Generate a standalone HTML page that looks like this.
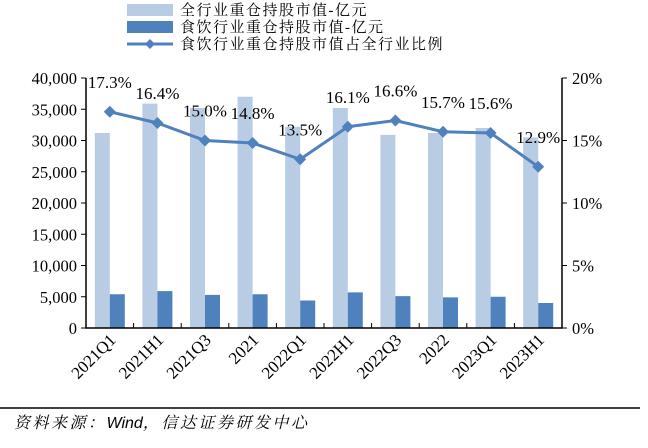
<!DOCTYPE html>
<html><head><meta charset="utf-8"><style>
body{margin:0;background:#fff;width:648px;height:443px;overflow:hidden}
svg text{font-family:"Liberation Serif","Noto Serif CJK SC",serif}
</style></head><body>
<svg width="648" height="443">
<g font-size="15" letter-spacing="1.5">
<rect x="127" y="4" width="46" height="12" fill="#b8cce4"/>
<text x="180" y="15">全行业重仓持股市值-亿元</text>
<rect x="127" y="21" width="46" height="12" fill="#4f81bd"/>
<text x="180" y="32">食饮行业重仓持股市值-亿元</text>
<line x1="127" y1="44" x2="173" y2="44" stroke="#4f81bd" stroke-width="3"/>
<path d="M150 39 L155 44 L150 49 L145 44Z" fill="#4f81bd"/>
<text x="180" y="49">食饮行业重仓持股市值占全行业比例</text>
</g>
<g id="plot"></g>
<line x1="0" y1="408" x2="640" y2="408" stroke="#000" stroke-width="1.5"/>
<text x="14" y="428" font-size="16" font-style="italic" letter-spacing="2.5">资料来源：<tspan style="font-family:'Liberation Sans',sans-serif" letter-spacing="0">Wind</tspan>，信达证券研发中心</text>
</svg>
<script>
const categories=["2021Q1","2021H1","2021Q3","2021","2022Q1","2022H1","2022Q3","2022","2023Q1","2023H1"];
const totalValues=[31200,35900,35200,37000,32200,35200,30900,31200,32000,30500];
const foodValues=[5400,5900,5300,5400,4400,5700,5100,4900,5000,4000];
const ratioValues=[17.3,16.4,15.0,14.8,13.5,16.1,16.6,15.7,15.6,12.9];
const leftTicks=[0,5000,10000,15000,20000,25000,30000,35000,40000];
const rightTicks=[0,5,10,15,20];
const X0=86,X1=562,Y0=328,Y1=78;
const band=(X1-X0)/categories.length;
const yL=v=>Y0-(v/40000)*(Y0-Y1);
const yR=v=>Y0-(v/20)*(Y0-Y1);
const cx=i=>X0+band*(i+0.5);
const NS="http://www.w3.org/2000/svg";
const g=document.getElementById('plot');
function mk(t,a,txt){const e=document.createElementNS(NS,t);for(const k in a)e.setAttribute(k,a[k]);if(txt!==undefined)e.textContent=txt;g.appendChild(e);return e;}
categories.forEach((c,i)=>{
 let e=mk('rect',{x:cx(i)-15,y:yL(totalValues[i]),width:15,height:Y0-yL(totalValues[i]),fill:'#b8cce4'});
 
 
 e=mk('rect',{x:cx(i),y:yL(foodValues[i]),width:15,height:Y0-yL(foodValues[i]),fill:'#4f81bd'});
 
 
 e=mk('text',{x:0,y:0,'font-size':17,'text-anchor':'end',transform:`translate(${cx(i)+7},${Y0+13}) rotate(-45)`},c);
 
 
});
let pts=ratioValues.map((v,i)=>cx(i)+','+yR(v)).join(' ');
let ln=mk('polyline',{points:pts,fill:'none',stroke:'#4f81bd','stroke-width':3});


ratioValues.forEach((v,i)=>{
 const x=cx(i),y=yR(v);
 let e=mk('path',{d:`M${x} ${y-6}L${x+6} ${y}L${x} ${y+6}L${x-6} ${y}Z`,fill:'#4f81bd'});
 
 
 e=mk('text',{x:x,y:y-24,'font-size':17,'text-anchor':'middle'},v.toFixed(1)+'%');
 
 
});
let a=mk('path',{d:`M${X0} ${Y1}V${Y0}H${X1}V${Y1}`,fill:'none',stroke:'#000','stroke-width':1.5});


leftTicks.forEach(t=>{
 mk('line',{x1:X0-5,x2:X0,y1:yL(t),y2:yL(t),stroke:'#000'});
 let e=mk('text',{x:X0-9,y:yL(t)+6,'font-size':16.5,'text-anchor':'end'},t.toLocaleString('en-US'));
 
 
});
rightTicks.forEach(t=>{
 mk('line',{x1:X1,x2:X1+5,y1:yR(t),y2:yR(t),stroke:'#000'});
 let e=mk('text',{x:X1+10,y:yR(t)+6,'font-size':16.5},t+'%');
 
 
});
for(let i=1;i<categories.length;i++)mk('line',{x1:X0+band*i,x2:X0+band*i,y1:Y0,y2:Y0-5,stroke:'#000'});
</script>
</body></html>
